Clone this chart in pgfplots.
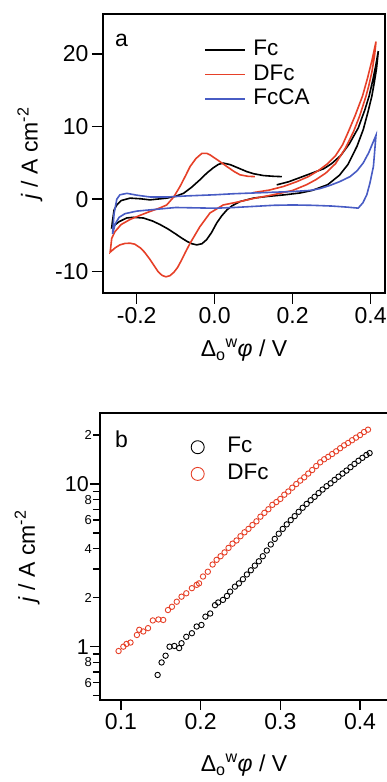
\documentclass[border=0pt]{standalone}
\usepackage{fontspec}
\setmainfont{Liberation Sans}
\usepackage{pgfplots}
\pgfplotsset{compat=1.18}
\definecolor{cred}{RGB}{230,64,40}
\definecolor{cblue}{RGB}{72,92,196}
\newcommand{\bigf}{\fontsize{23bp}{27bp}\selectfont}
\newcommand{\midf}{\fontsize{21.5bp}{25bp}\selectfont}
\newcommand{\legf}{\fontsize{22.5bp}{27bp}\selectfont}
\newcommand{\smallf}{\fontsize{13bp}{15bp}\selectfont}
\pgfplotsset{
  myaxis/.style={
    scale only axis,
    anchor=south west,
    axis line style={line width=1.3bp},
    every tick/.style={line width=1.3bp, black},
    tick align=outside,
    xtick pos=bottom, ytick pos=left,
    major tick length=11bp,
    tick label style={font=\bigf},
    label style={font=\bigf},
    /pgf/number format/assume math mode=true,
    enlargelimits=false,
  }
}
\begin{document}
\begin{tikzpicture}
\path[use as bounding box] (0bp,0bp) rectangle (387bp,782bp);
% ---------------- panel a ----------------
\begin{axis}[myaxis,
  at={(103bp,489bp)}, width=282bp, height=279bp,
  xmin=-0.2864, xmax=0.4367, ymin=-12.93, ymax=25.51,
  xtick={-0.2,0,0.2,0.4}, xticklabels={-0.2,0.0,0.2,0.4},
  ytick={-10,0,10,20}, yticklabels={-10,0,10,20},
  xlabel={Δ\textsubscript{o}\textsuperscript{w}\textit{φ} / V},
  ylabel={\textit{j} / A cm\textsuperscript{-2}},
  xlabel style={at={(axis description cs:0.5,-0.229)}, anchor=base},
  ylabel style={at={(axis description cs:-0.259,0.5)}, anchor=center},
  legend style={draw=none, fill=none, font=\legf,
    at={(rel axis cs:0.359,0.915)}, anchor=north west,
    inner sep=0pt, column sep=0pt, row sep=0pt,
    nodes={inner sep=2.75bp, text height=15bp, text depth=4bp}},
  legend cell align=left,
  legend image code/.code={\path[draw=none,fill=none] (0bp,0bp) -- (45.5bp,0bp); \draw[#1] (0bp,0bp) -- (40bp,0bp);},
]
\addplot[black, line width=1.6bp] coordinates {
(0.159,1.97) (0.19,2.4) (0.22,3.0) (0.25,3.6) (0.28,4.2) (0.30,4.9) (0.323,6.0)
(0.345,7.6) (0.368,9.8) (0.385,12.3) (0.396,14.2) (0.405,16.3) (0.413,18.4) (0.4195,20.4)
(0.415,18.0) (0.409,16.0) (0.403,14.2) (0.393,12.0) (0.381,9.6) (0.365,7.3) (0.342,4.8)
(0.32,3.3) (0.29,2.0) (0.25,1.2) (0.219,0.85) (0.18,0.6) (0.133,0.36) (0.1,0.15)
(0.065,-0.33) (0.045,-0.9) (0.031,-1.5) (0.018,-2.3) (0.005,-3.3) (-0.008,-4.6)
(-0.021,-5.6) (-0.033,-6.15) (-0.046,-6.3) (-0.058,-6.15)
(-0.07,-5.85) (-0.085,-5.35) (-0.1,-4.8) (-0.12,-4.1) (-0.14,-3.5) (-0.16,-3.0)
(-0.183,-2.6) (-0.209,-2.5) (-0.226,-2.6) (-0.245,-3.1) (-0.264,-3.9)
(-0.262,-3.0) (-0.258,-1.5) (-0.251,-0.8) (-0.24,-0.2) (-0.217,0.14) (-0.19,0.05)
(-0.166,-0.1) (-0.123,0.14) (-0.1,0.4) (-0.08,0.8) (-0.06,1.6) (-0.038,2.66)
(-0.02,3.6) (-0.004,4.3) (0.01,4.8) (0.022,4.97) (0.04,4.75) (0.06,4.3) (0.082,3.8)
(0.1,3.5) (0.125,3.25) (0.15,3.15) (0.172,3.1)
};
\addlegendentry{Fc}
\addplot[cred, line width=1.6bp] coordinates {
(0.099,0.9) (0.14,1.25) (0.176,1.74) (0.21,2.4) (0.24,3.1) (0.265,3.9) (0.29,4.9)
(0.31,6.0) (0.328,7.5) (0.342,9.2) (0.36,11.5) (0.379,14.2) (0.392,16.7) (0.404,19.3)
(0.4136,21.7)
(0.41,19.8) (0.403,17.5) (0.395,15.6) (0.388,14.2) (0.372,11.5) (0.356,9.3)
(0.335,7.0) (0.31,4.9) (0.285,3.6) (0.26,2.7) (0.236,2.0) (0.2,1.2) (0.15,0.6)
(0.1,0.1) (0.065,-0.33) (0.022,-0.8) (-0.012,-1.9) (-0.038,-3.8) (-0.063,-6.07)
(-0.075,-7.3) (-0.085,-8.4) (-0.095,-9.4) (-0.105,-10.1) (-0.115,-10.55) (-0.125,-10.7)
(-0.135,-10.5) (-0.145,-10.0) (-0.155,-9.2) (-0.166,-8.3) (-0.18,-7.3) (-0.191,-6.7)
(-0.205,-6.2) (-0.217,-6.07) (-0.23,-6.1) (-0.243,-6.3) (-0.255,-6.7) (-0.268,-7.3)
(-0.264,-5.4) (-0.256,-4.5) (-0.24,-3.5) (-0.217,-2.8) (-0.19,-2.2) (-0.166,-1.7)
(-0.14,-1.2) (-0.123,-0.8) (-0.105,0.3) (-0.089,1.74) (-0.075,3.2) (-0.063,4.5)
(-0.048,5.6) (-0.033,6.3) (-0.02,6.3) (-0.012,6.1) (0.01,5.3) (0.031,4.5) (0.05,3.8)
(0.065,3.35) (0.085,3.15) (0.103,3.1)
};
\addlegendentry{DFc}
\addplot[cblue, line width=1.6bp] coordinates {
(-0.262,-4.8) (-0.258,-2.0) (-0.251,0.0) (-0.243,0.6) (-0.225,0.8) (-0.2,0.55)
(-0.166,0.3) (-0.12,0.3) (-0.07,0.45) (0.0,0.6) (0.05,0.75) (0.1,0.85) (0.15,0.95)
(0.2,1.05) (0.244,1.2) (0.27,1.45) (0.296,1.9) (0.32,2.4) (0.347,3.1) (0.365,3.9)
(0.381,5.0) (0.395,6.4) (0.405,7.7) (0.4136,8.8)
(0.407,4.5) (0.398,2.2) (0.39,0.6) (0.38,-0.5) (0.368,-1.24) (0.34,-1.1) (0.3,-0.95)
(0.25,-0.85) (0.2,-0.8) (0.15,-0.85) (0.1,-1.0) (0.05,-1.15) (0.0,-1.25) (-0.05,-1.2)
(-0.1,-1.15) (-0.15,-1.4) (-0.2,-1.65) (-0.23,-2.0) (-0.245,-2.5) (-0.255,-3.4) (-0.262,-4.8)
};
\addlegendentry{FcCA}
\node[font=\bigf, anchor=base west, inner sep=0pt] at (rel axis cs:0.0426,0.882) {a};
\end{axis}
% ---------------- panel b ----------------
\begin{axis}[myaxis,
  at={(100bp,82bp)}, width=288bp, height=287bp,
  ymode=log,
  xmin=0.0737, xmax=0.4351, ymin=0.47, ymax=27.35,
  xtick={0.1,0.2,0.3,0.4}, xticklabels={0.1,0.2,0.3,0.4},
  ytick={1,10}, yticklabels={1,10},
  yticklabel style={font=\midf, inner sep=1bp},
  major tick length=10bp, minor tick length=7bp,
  minor ytick={0.5,0.7,0.9,3,5,7,9},
  extra y ticks={0.6,0.8,2,4,6,8,20},
  extra y tick labels={6,8,2,4,6,8,2},
  extra y tick style={major tick length=7bp, yticklabel style={font=\smallf, inner sep=1bp}},
  xlabel={Δ\textsubscript{o}\textsuperscript{w}\textit{φ} / V},
  ylabel={\textit{j} / A cm\textsuperscript{-2}},
  xlabel style={at={(axis description cs:0.5,-0.25)}, anchor=base},
  ylabel style={at={(axis description cs:-0.253,0.5)}, anchor=center},
  legend style={draw=none, fill=none, font=\legf,
    at={(rel axis cs:0.316,0.928)}, anchor=north west,
    inner sep=0pt, column sep=0pt, row sep=0pt,
    nodes={inner sep=3.1bp, text height=16bp, text depth=4.5bp}},
  legend cell align=left,
  legend image code/.code={\path[draw=none,fill=none] (0bp,0bp) -- (33bp,0bp); \draw[#1,mark size=6.5bp] plot coordinates {(6.5bp,0bp)};},
]
\addplot[black, only marks, mark=o, mark size=2.7bp, mark options={line width=0.9bp}] coordinates {
(0.146,0.67) (0.151,0.80) (0.156,0.88) (0.161,1.00) (0.167,1.01) (0.173,0.98)
(0.176,1.05) (0.182,1.15) (0.189,1.21) (0.195,1.33) (0.201,1.36) (0.206,1.53)
(0.212,1.60) (0.218,1.80) (0.222,1.87) (0.228,1.94) (0.233,2.05) (0.237,2.18)
(0.243,2.34) (0.248,2.45) (0.253,2.60) (0.258,2.78) (0.263,2.95) (0.268,3.15)
(0.273,3.35) (0.278,3.6) (0.283,3.9) (0.288,4.25) (0.293,4.6) (0.298,4.95)
(0.303,5.3) (0.308,5.65) (0.313,6.0) (0.318,6.35) (0.323,6.75) (0.328,7.15)
(0.333,7.55) (0.338,7.95) (0.343,8.35) (0.348,8.8) (0.353,9.25) (0.358,9.7)
(0.363,10.1) (0.368,10.6) (0.373,11.1) (0.378,11.6) (0.383,12.1) (0.388,12.7)
(0.393,13.3) (0.398,13.9) (0.403,14.5) (0.408,15.1) (0.412,15.5)
};
\addlegendentry{Fc}
\addplot[cred, only marks, mark=o, mark size=2.7bp, mark options={line width=0.9bp}] coordinates {
(0.097,0.94) (0.103,1.00) (0.107,1.04) (0.112,1.06) (0.120,1.18) (0.123,1.27)
(0.128,1.24) (0.134,1.30) (0.140,1.45) (0.147,1.47) (0.153,1.46) (0.159,1.68)
(0.164,1.76) (0.170,1.89) (0.176,2.03) (0.182,2.13) (0.189,2.29) (0.195,2.40)
(0.198,2.45) (0.203,2.70) (0.209,2.89) (0.215,3.2) (0.220,3.42) (0.225,3.6)
(0.230,3.8) (0.235,4.05) (0.240,4.3) (0.245,4.5) (0.250,4.78) (0.255,5.05)
(0.260,5.3) (0.265,5.6) (0.270,5.9) (0.275,6.3) (0.280,6.65) (0.285,7.0)
(0.290,7.45) (0.295,7.75) (0.300,8.1) (0.305,8.6) (0.310,9.0) (0.315,9.5)
(0.320,10.0) (0.325,10.5) (0.330,11.0) (0.335,11.6) (0.340,12.2) (0.345,12.9)
(0.350,13.6) (0.355,14.2) (0.360,14.7) (0.365,15.3) (0.370,15.9) (0.375,16.6)
(0.380,17.3) (0.385,17.9) (0.390,18.6) (0.395,19.3) (0.400,20.0) (0.405,20.9)
(0.410,21.6)
};
\addlegendentry{DFc}
\node[font=\bigf, anchor=base west, inner sep=0pt] at (rel axis cs:0.052,0.8815) {b};
\end{axis}
\end{tikzpicture}
\end{document}
